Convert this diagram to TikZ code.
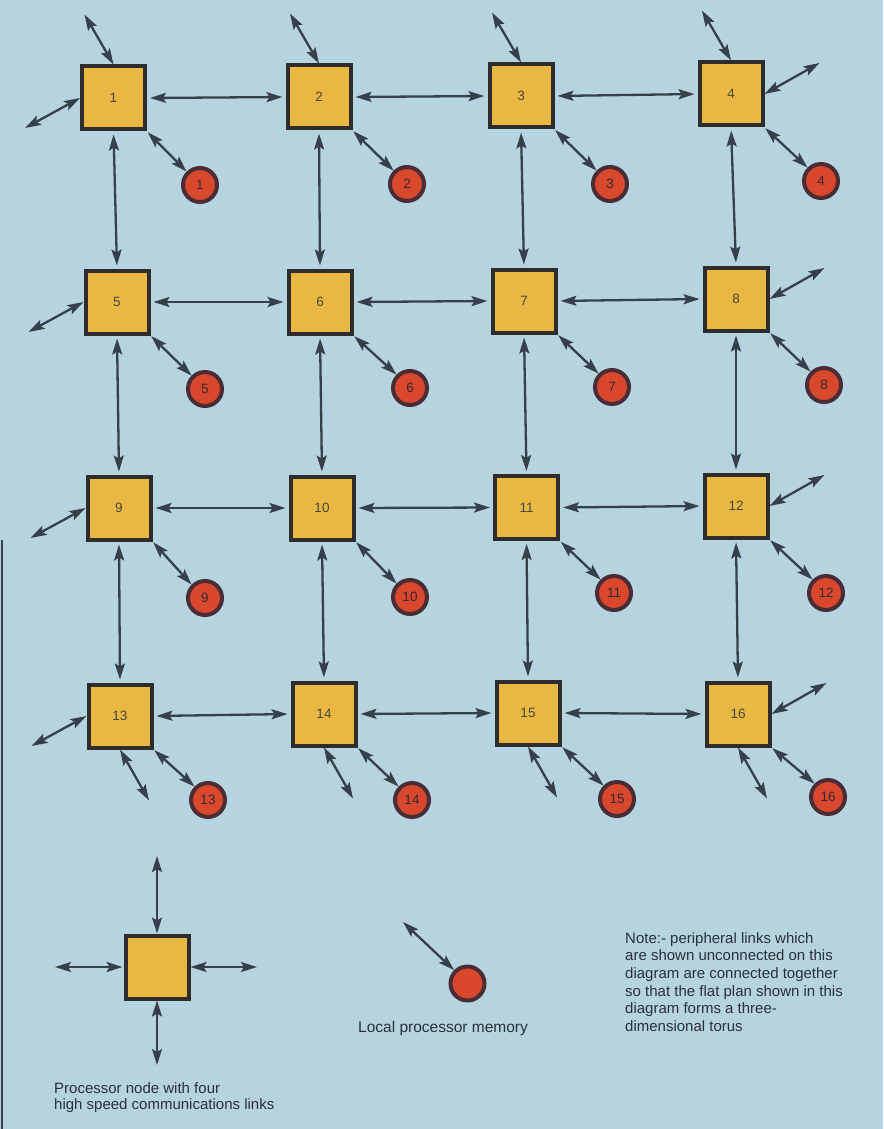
\documentclass[tikz,border=0pt]{standalone}
\usepackage{fontspec}
\setmainfont{Liberation Sans}
\usetikzlibrary{arrows.meta,calc}
\definecolor{bg}{HTML}{B6D4E0}
\definecolor{boxfill}{HTML}{E8B843}
\definecolor{boxline}{HTML}{2F2C2E}
\definecolor{memfill}{HTML}{D9482C}
\definecolor{ringcol}{HTML}{4A2C36}
\definecolor{arrowcol}{HTML}{36404A}
\definecolor{labeltext}{HTML}{4A4838}
\definecolor{memtext}{HTML}{3A2830}
\definecolor{txt}{HTML}{2A3038}
\begin{document}
\begin{tikzpicture}[x=1pt,y=-1pt,
  proc/.style={draw=boxline, line width=4pt, fill=boxfill, minimum size=63pt, inner sep=0pt, font=\fontsize{13.5}{13.5}\selectfont, text=labeltext},
  mem/.style={circle, draw=ringcol, line width=4pt, fill=memfill, minimum size=34pt, inner sep=0pt, font=\fontsize{13.5}{13.5}\selectfont, text=memtext},
  tip/.tip={Stealth[length=16pt,width=10pt,inset=3pt]},
  link/.style={draw=arrowcol, line width=2.3pt, tip-tip},
  gridlink/.style={link, shorten <=3pt, shorten >=3pt},
  caption/.style={text=txt, inner sep=0pt, align=left}]
\useasboundingbox (0,0) rectangle (883,1129);
\fill[bg] (0,0) rectangle (883,1129);
\draw[line width=2.5pt, color=arrowcol] (2,540) -- (2,1129);

% processor nodes
\foreach \n/\x/\y in {1/113.5/98, 2/319/97, 3/521/96, 4/731/94,
                      5/117/302, 6/320/302, 7/524/301, 8/736/299,
                      9/119/508, 10/322/508, 11/526.5/507.5, 12/736/506,
                      13/120/716, 14/324/714, 15/528/713, 16/738/714}
  \node[proc] (b\n) at (\x,\y) {\n};

% local memories
\foreach \n/\x/\y in {1/200/185, 2/407/184, 3/610/184, 4/821/181,
                      5/205/389, 6/410/388, 7/612/387, 8/824/385,
                      9/205/598, 10/410/597, 11/614/593, 12/826/593,
                      13/208/800, 14/412/800, 15/617/799, 16/828/797}
{
  \node[mem] (c\n) at (\x,\y) {\n};
  \draw[link, shorten <=1pt] (b\n.south east) -- (c\n.north west);
}

% horizontal links
\foreach \a/\b in {1/2,2/3,3/4,5/6,6/7,7/8,9/10,10/11,11/12,13/14,14/15,15/16}
  \draw[gridlink] (b\a.east) -- (b\b.west);
% vertical links
\foreach \a/\b in {1/5,5/9,9/13,2/6,6/10,10/14,3/7,7/11,11/15,4/8,8/12,12/16}
  \draw[gridlink] (b\a.south) -- (b\b.north);

% peripheral links
\foreach \n in {1,2,3,4}{
  \coordinate (t\n) at ($(b\n.north)+(-29,-50)$);
  \draw[link] (b\n.north) -- (t\n);}
\foreach \n in {1,5,9,13}{
  \coordinate (l\n) at ($(b\n.west)+(-55,30)$);
  \draw[link] (b\n.west) -- (l\n);}
\foreach \n in {4,8,12,16}{
  \coordinate (r\n) at ($(b\n.east)+(55,-31)$);
  \draw[link] (b\n.east) -- (r\n);}
\foreach \n in {13,14,15,16}{
  \coordinate (d\n) at ($(b\n.south)+(29,51)$);
  \draw[link] (b\n.south) -- (d\n);}

% legend: processor node
\node[proc] (lg) at (157,967) {};
\coordinate (lgt) at (157,856);
\coordinate (lgb) at (157,1065);
\coordinate (lgl) at (55,967);
\coordinate (lgr) at (257,967);
\draw[link] (lg.north) -- (lgt);
\draw[link] (lg.south) -- (lgb);
\draw[link, shorten >=1pt] (lgl) -- (lg.west);
\draw[link] (lg.east) -- (lgr);
\node[caption, anchor=base west, font=\fontsize{15}{15.5}\selectfont] (cap1) at (54,1109) {Processor node with four\\high speed communications links};

% legend: memory
\node[mem] (lm) at (467.5,983.5) {};
\coordinate (lmt) at (403,922);
\draw[link] (lmt) -- (lm.north west);
\node[caption, anchor=base west, font=\fontsize{15.5}{16}\selectfont] (cap2) at (358,1032) {Local processor memory};

% note
\node[caption, anchor=base west, font=\fontsize{15}{17.7}\selectfont] (note) at (625,1031.5) {Note:- peripheral links which\\are shown unconnected on this\\diagram are connected together\\so that the flat plan shown in this\\diagram forms a three-\\dimensional torus};
\end{tikzpicture}
\end{document}
